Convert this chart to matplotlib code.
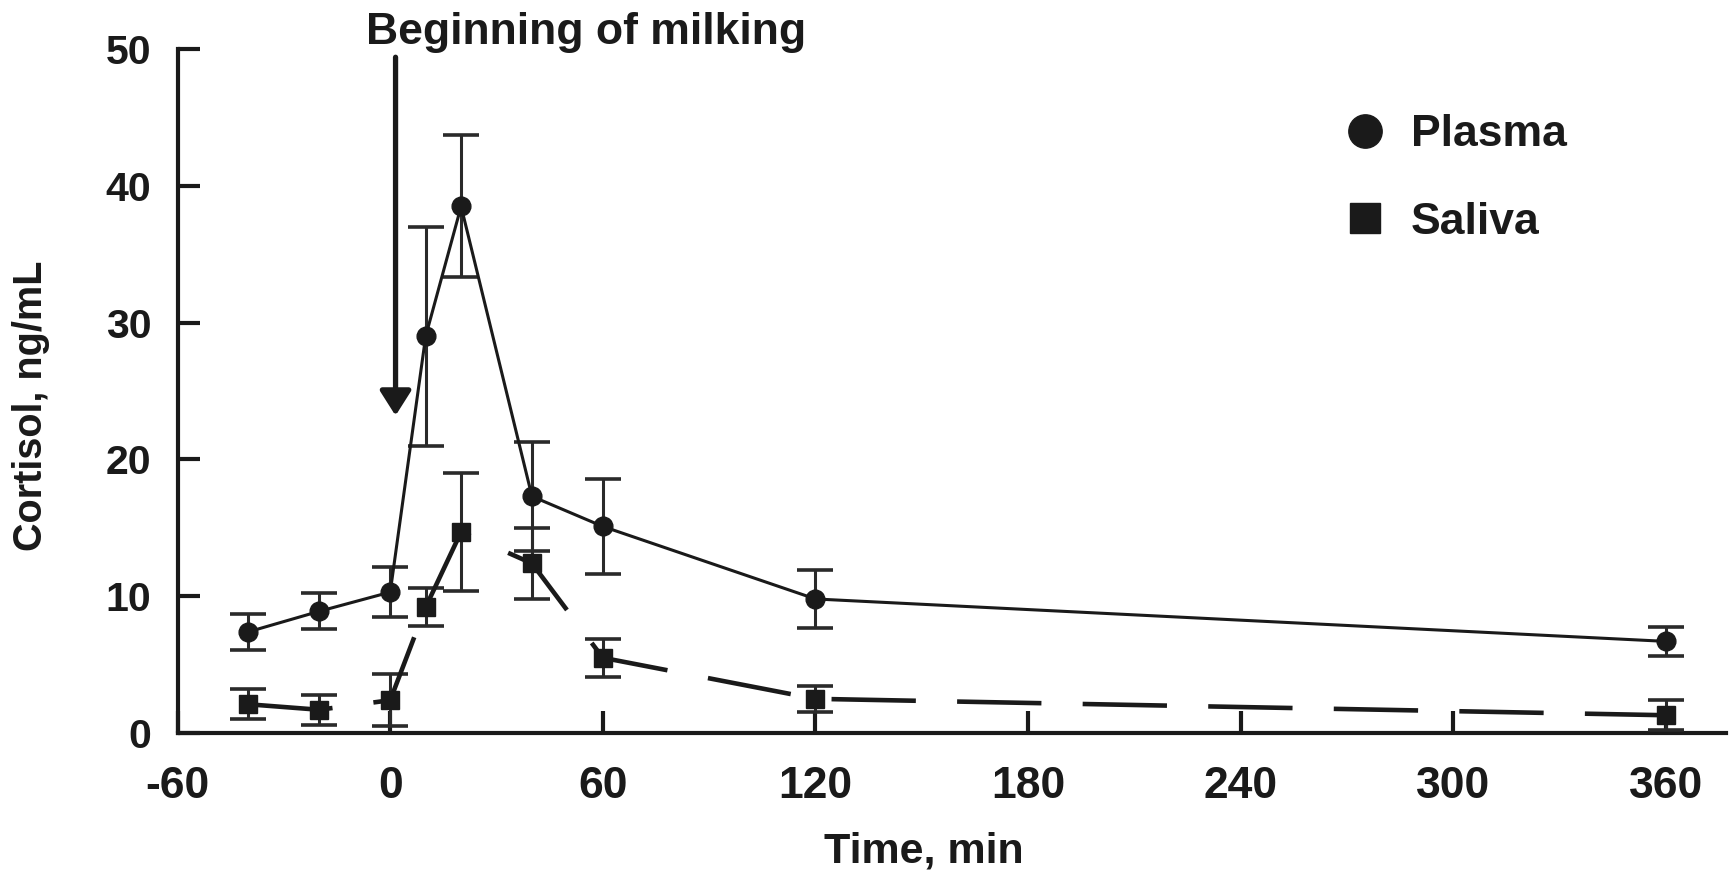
import matplotlib
matplotlib.use("Agg")
import matplotlib.pyplot as plt
from matplotlib.lines import Line2D

plt.rcParams['font.family'] = ['Liberation Sans', 'DejaVu Sans']
plt.rcParams['font.weight'] = 'bold'
plt.rcParams['axes.labelweight'] = 'bold'
plt.rcParams['axes.unicode_minus'] = False

# sampling times (min relative to start of milking)
time_pts = [-40, -20, 0, 10, 20, 40, 60, 120, 360]

# cortisol, ng/mL (mean and SEM)
plasma_mean = [7.4, 8.9, 10.3, 29.0, 38.5, 17.3, 15.1, 9.8, 6.7]
plasma_sem = [1.3, 1.3, 1.8, 8.0, 5.2, 4.0, 3.5, 2.1, 1.05]
saliva_mean = [2.1, 1.7, 2.4, 9.2, 14.7, 12.4, 5.5, 2.5, 1.3]
saliva_sem = [1.1, 1.1, 1.9, 1.4, 4.3, 2.6, 1.4, 0.95, 1.1]

xticks = [-60, 0, 60, 120, 180, 240, 300, 360]
yticks = [0, 10, 20, 30, 40, 50]

ink = '#1a1a1a'

fig = plt.figure(figsize=(17.33, 8.74), dpi=100)
ax = fig.add_axes([0.1025, 0.1613, 0.8935, 0.7826])

ax.errorbar(time_pts, plasma_mean, yerr=plasma_sem, fmt='o-', color=ink,
            ms=13.5, lw=2.2, ecolor='#2a2a2a', elinewidth=2.2, capsize=13,
            capthick=2.6, clip_on=False, zorder=3)
ax.errorbar(time_pts, saliva_mean, yerr=saliva_sem, marker='s', color=ink,
            ms=13.5, lw=3.3, linestyle=(0, (18.4, 9)), ecolor='#2a2a2a',
            elinewidth=2.2, capsize=13, capthick=2.6, clip_on=False, zorder=3)

ax.set_xlim(-60, 377)
ax.set_ylim(0, 50)
ax.set_xticks(xticks)
ax.set_yticks(yticks)

for s in ['top', 'right']:
    ax.spines[s].set_visible(False)
for s in ['left', 'bottom']:
    ax.spines[s].set_linewidth(3)
    ax.spines[s].set_color(ink)

ax.tick_params(direction='in', length=16, width=3, color=ink, labelcolor=ink)
ax.tick_params(axis='x', pad=24, labelsize=32)
ax.tick_params(axis='y', pad=19, labelsize=29.5)

ax.set_xlabel('Time, min', fontsize=31, color=ink, va='center')
ax.xaxis.set_label_coords(0.482, -0.1725)
ax.set_ylabel('Cortisol, ng/mL', fontsize=28.5, color=ink, va='center', ha='center')
ax.yaxis.set_label_coords(-0.0947, 0.478)

# milking start marker
ax.annotate('', xy=(1.5, 23.2), xytext=(1.5, 49.4),
            arrowprops=dict(arrowstyle='-|>,head_length=1.5,head_width=0.95',
                            lw=3.8, color=ink, shrinkA=0, shrinkB=0),
            annotation_clip=False)
ax.text(55.3, 50.4, 'Beginning of milking', ha='center', va='baseline',
        fontsize=32, color=ink, clip_on=False)

handles = [Line2D([], [], marker='o', ls='none', color=ink, ms=24, label='Plasma'),
           Line2D([], [], marker='s', ls='none', color=ink, ms=22, label='Saliva')]
ax.legend(handles=handles, loc='upper left', bbox_to_anchor=(1322 / 1733, 1 - 92 / 874),
          bbox_transform=fig.transFigure, frameon=False, fontsize=32,
          handlelength=0.95, handletextpad=0.55, borderpad=0, labelspacing=1.05,
          labelcolor=ink)

fig.savefig('out.png', dpi=100)
